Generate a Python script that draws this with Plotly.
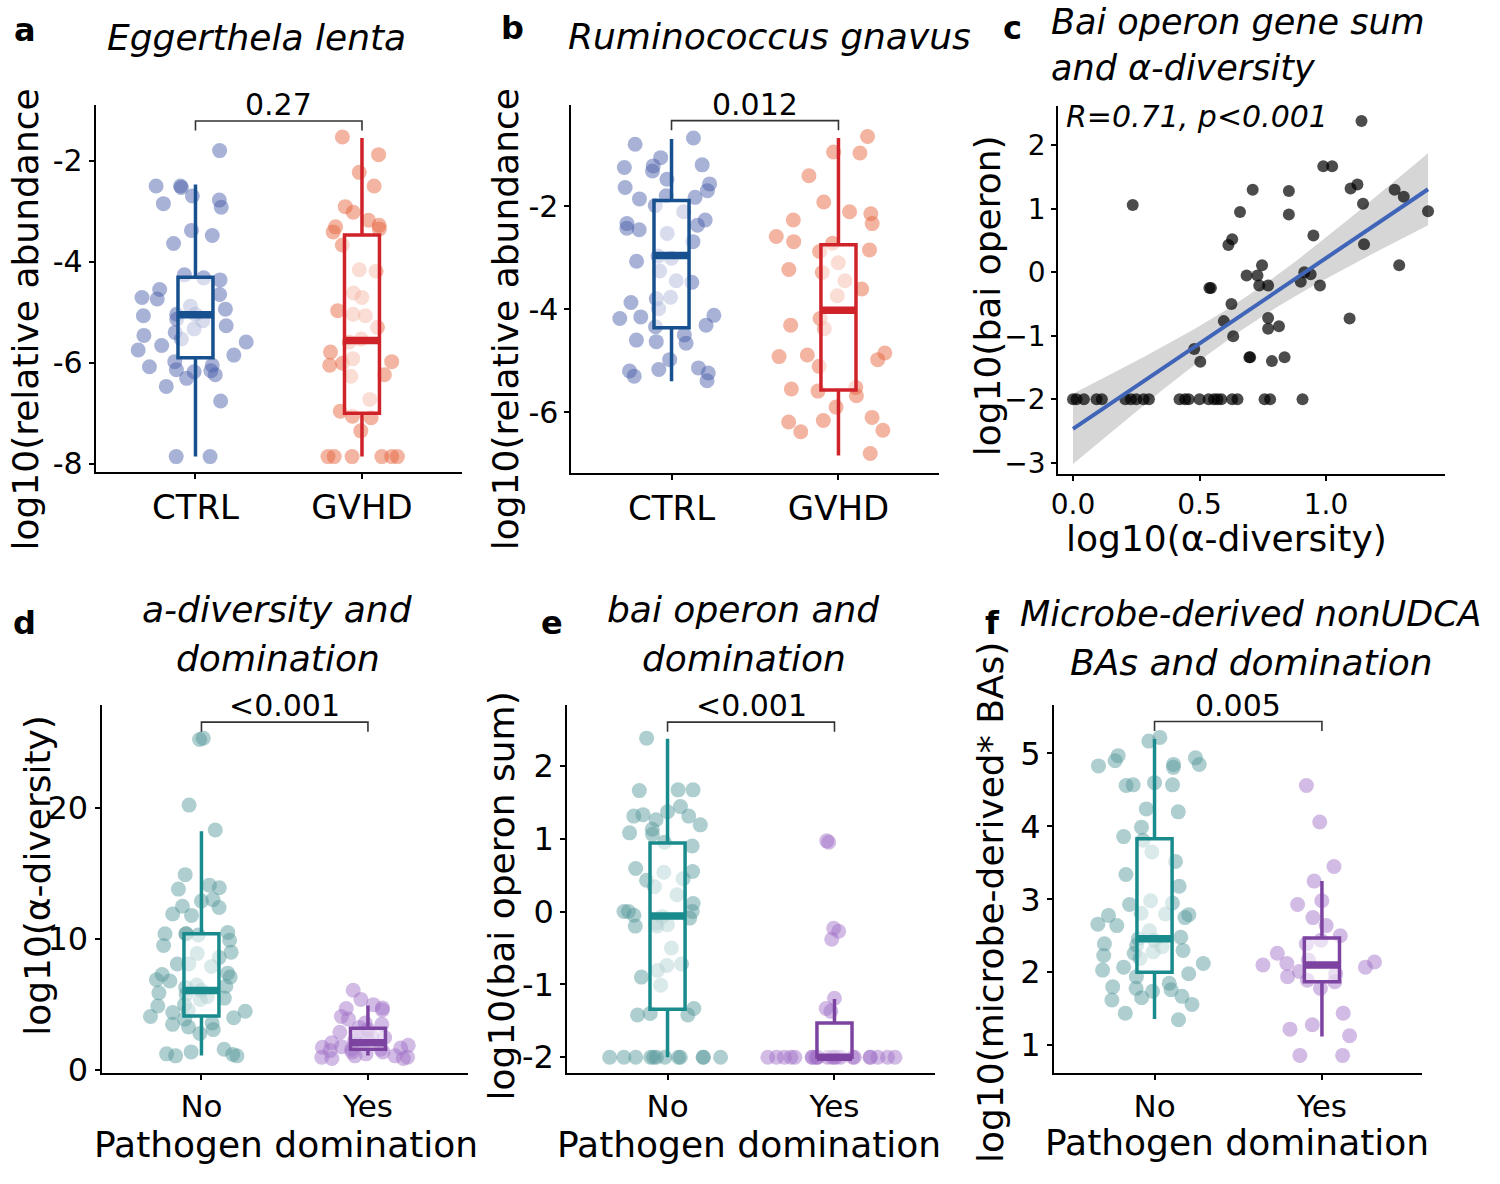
import numpy as np
import plotly.graph_objects as go

W, H = 1500, 1184
FONT = "DejaVu Sans"

# ---------------- data ----------------
ab_cats = ["CTRL", "GVHD"]
dom_cats = ["No", "Yes"]

a_ctrl = [-1.80, -2.50, -2.53, -2.50, -2.70, -2.78, -2.85, -2.92, -3.38, -3.48, -3.64, -4.26, -4.32, -4.36,
          -4.55, -4.65, -4.71, -4.74, -4.88, -4.94, -5.04, -5.04, -5.07, -5.14, -5.17, -5.27, -5.33, -5.40,
          -5.46, -5.53, -5.59, -5.66, -5.75, -5.85, -5.98, -6.05, -6.08, -6.14, -6.16, -6.18, -6.24, -6.31,
          -6.47, -6.76, -7.86, -7.86]
a_gvhd = [-1.53, -1.88, -2.23, -2.50, -2.91, -3.02, -3.18, -3.28, -3.31, -3.35, -3.41, -3.67, -4.16, -4.19,
          -4.62, -4.71, -4.97, -5.04, -5.07, -5.30, -5.53, -5.59, -5.79, -5.92, -5.98, -6.01, -6.05, -6.24,
          -6.27, -6.73, -6.96, -7.06, -7.09, -7.35, -7.86, -7.86, -7.86, -7.86, -7.86, -7.86]

b_ctrl = [-0.68, -0.80, -1.06, -1.20, -1.22, -1.25, -1.32, -1.48, -1.57, -1.64, -1.70, -1.80, -1.83, -1.86,
          -1.99, -2.11, -2.27, -2.34, -2.37, -2.43, -2.46, -2.53, -2.69, -2.97, -3.01, -3.07, -3.26, -3.45,
          -3.48, -3.77, -3.80, -3.87, -3.99, -4.12, -4.15, -4.18, -4.31, -4.34, -4.50, -4.60, -4.63, -4.66,
          -4.98, -5.14, -5.17, -5.20, -5.24, -5.30, -5.39]
b_gvhd = [-0.65, -0.95, -0.97, -1.41, -1.92, -2.11, -2.15, -2.27, -2.34, -2.59, -2.69, -2.72, -2.85, -2.88,
          -3.10, -3.23, -3.29, -3.45, -3.61, -3.74, -4.18, -4.31, -4.38, -4.85, -4.89, -4.92, -4.98, -5.11,
          -5.52, -5.55, -5.59, -5.68, -5.90, -6.10, -6.16, -6.19, -6.35, -6.38, -6.80]

c_x = [1.140, 0.989, 1.024, 0.710, 0.853, 1.097, 1.124, 1.271, 1.307, 0.236, 1.146, 0.660, 0.853, 1.403,
       0.950, 0.629, 0.614, 1.150, 0.747, 1.289, 0.686, 0.729, 0.736, 0.771, 0.914, 0.939, 0.900, 0.976,
       0.539, 0.545, 0.626, 0.596, 0.771, 0.771, 0.814, 0.633, 1.093, 0.479, 0.503, 0.697, 0.700, 0.786,
       0.836, 0.000, 0.014, 0.043, 0.093, 0.114, 0.207, 0.229, 0.250, 0.279, 0.300, 0.421, 0.443, 0.457,
       0.500, 0.536, 0.557, 0.571, 0.586, 0.629, 0.650, 0.757, 0.779, 0.907]
c_y = [2.38, 1.67, 1.67, 1.30, 1.28, 1.32, 1.38, 1.30, 1.19, 1.06, 1.08, 0.95, 0.91, 0.96,
       0.58, 0.52, 0.43, 0.44, 0.11, 0.11, -0.05, -0.05, -0.21, -0.21, 0.00, -0.03, -0.15, -0.21,
       -0.25, -0.25, -0.50, -0.77, -0.72, -0.89, -0.85, -1.01, -0.73, -1.21, -1.41, -1.34, -1.34, -1.40,
       -1.34, -2.0, -2.0, -2.0, -2.0, -2.0, -2.0, -2.0, -2.0, -2.0, -2.0, -2.0, -2.0, -2.0,
       -2.0, -2.0, -2.0, -2.0, -2.0, -2.0, -2.0, -2.0, -2.0, -2.0]

d_no = [25.3, 25.2, 20.2, 18.3, 14.9, 14.1, 13.9, 13.8, 13.0, 12.9, 12.5, 12.4, 11.9, 11.8, 10.5, 10.4,
        10.4, 10.4, 10.3, 9.9, 9.5, 9.0, 8.9, 8.6, 8.1, 8.1, 7.9, 7.4, 7.3, 7.1, 6.9, 6.8, 6.5, 6.4, 6.3,
        6.1, 5.9, 5.8, 5.6, 5.5, 5.4, 5.0, 4.9, 4.6, 4.5, 4.4, 4.1, 4.0, 3.9, 3.6, 3.5, 3.3, 3.1, 2.8,
        1.6, 1.4, 1.25, 1.2, 1.1, 1.1]
d_yes = [6.1, 5.4, 5.0, 4.75, 4.7, 4.6, 4.1, 3.9, 3.6, 3.5, 3.25, 3.1, 2.9, 2.75, 2.6, 2.5, 2.4, 2.25,
         2.1, 2.0, 1.9, 1.8, 1.75, 1.7, 1.6, 1.6, 1.5, 1.4, 1.4, 1.25, 1.1, 1.1, 1.0, 1.0, 0.9, 0.9]

e_no = [2.38, 1.67, 1.67, 1.66, 1.44, 1.37, 1.33, 1.31, 1.31, 1.26, 1.19, 1.13, 1.08, 1.06, 0.95, 0.90,
        0.59, 0.55, 0.54, 0.45, 0.43, 0.34, 0.23, 0.11, 0.00, 0.00, 0.00, -0.05, -0.07, -0.09, -0.16,
        -0.18, -0.20, -0.20, -0.50, -0.72, -0.74, -0.81, -0.90, -1.01, -1.33, -1.40, -1.42, -1.42,
        -2.0, -2.0, -2.0, -2.0, -2.0, -2.0, -2.0, -2.0, -2.0, -2.0, -2.0, -2.0]
e_yes = [0.97, 0.95, -0.23, -0.27, -0.38, -1.19, -1.33, -1.37,
         -2.0, -2.0, -2.0, -2.0, -2.0, -2.0, -2.0, -2.0, -2.0, -2.0, -2.0, -2.0, -2.0, -2.0,
         -2.0, -2.0, -2.0, -2.0, -2.0, -2.0, -2.0, -2.0]

f_no = [5.22, 5.17, 4.97, 4.94, 4.90, 4.85, 4.85, 4.83, 4.81, 4.60, 4.57, 4.57, 4.56, 4.24, 4.20, 3.99,
        3.86, 3.81, 3.65, 3.52, 3.34, 3.18, 2.98, 2.95, 2.93, 2.81, 2.80, 2.79, 2.78, 2.75, 2.66, 2.64,
        2.57, 2.48, 2.46, 2.44, 2.39, 2.37, 2.35, 2.30, 2.28, 2.26, 2.23, 2.19, 2.12, 2.07, 2.03, 1.98,
        1.94, 1.85, 1.80, 1.78, 1.76, 1.74, 1.67, 1.65, 1.62, 1.56, 1.44, 1.35]
f_yes = [4.56, 4.06, 3.45, 3.25, 2.98, 2.93, 2.75, 2.64, 2.50, 2.44, 2.39, 2.26, 2.17, 2.14, 2.12, 2.10,
         2.07, 2.01, 1.98, 1.94, 1.89, 1.87, 1.78, 1.44, 1.28, 1.22, 1.13, 0.86, 0.86]

# box statistics: [lower whisker, q1, median, q3, upper whisker]
a_ctrl_box = [-7.86, -5.90, -5.05, -4.31, -2.47]
a_gvhd_box = [-7.86, -7.00, -5.56, -3.47, -1.55]
b_ctrl_box = [-5.40, -4.36, -2.96, -1.89, -0.70]
b_gvhd_box = [-6.84, -5.57, -4.02, -2.75, -0.68]
d_no_box = [1.13, 4.13, 6.08, 10.40, 18.20]
d_yes_box = [1.13, 1.60, 2.10, 3.20, 4.93]
e_no_box = [-2.00, -1.34, -0.06, 0.94, 2.37]
e_yes_box = [-2.00, -2.00, -2.00, -1.53, -1.20]
f_no_box = [1.36, 2.00, 2.46, 3.83, 5.20]
f_yes_box = [1.12, 1.87, 2.10, 2.47, 3.25]

p_labels = {"a": "0.27", "b": "0.012", "d": "<0.001", "e": "<0.001", "f": "0.005"}
corr_label = "R=0.71, p<0.001"

ab_ticks = [-8, -6, -4, -2]
ab_ticktext = ["-8", "-6", "-4", "-2"]
b_ticks = [-6, -4, -2]
b_ticktext = ["-6", "-4", "-2"]
c_xticks = [0.0, 0.5, 1.0]
c_xticktext = ["0.0", "0.5", "1.0"]
c_yticks = [-3, -2, -1, 0, 1, 2]
c_yticktext = ["\u22123", "\u22122", "\u22121", "0", "1", "2"]
d_ticks = [0, 10, 20]
d_ticktext = ["0", "10", "20"]
e_ticks = [-2, -1, 0, 1, 2]
e_ticktext = ["-2", "-1", "0", "1", "2"]
f_ticks = [1, 2, 3, 4, 5]
f_ticktext = ["1", "2", "3", "4", "5"]

# ---------------- styling ----------------
BLUE, BLUE_PT = "#17508F", "#4A5FAA"
RED, RED_PT = "#CF2229", "#E6623A"
TEAL, TEAL_PT = "#1A8B8D", "#55999A"
PURP, PURP_PT = "#7D43A1", "#A070C6"

# panel plot areas in pixels: (left, right, top, bottom)
PANELS = {
    1: (89, 457, 106, 478),
    2: (567, 936, 106, 479),
    3: (1056, 1445, 107, 480),
    4: (95, 463, 715, 1088),
    5: (563, 932, 715, 1088),
    6: (1052, 1422, 715, 1088),
}


def px(x):
    return x / W


def py(y):
    return 1 - y / H


fig = go.Figure()
layout = dict(width=W, height=H, margin=dict(l=0, r=0, t=0, b=0), paper_bgcolor="white",
              plot_bgcolor="white", showlegend=False, boxmode="overlay", annotations=[])


def add_axes(idx, xr, yr, ytv, ytt, xfs, yfs, cats=None, xtv=None, xtt=None):
    l, r, t, b = PANELS[idx]
    common = dict(showline=True, linecolor="black", linewidth=2, ticks="outside", ticklen=5,
                  tickwidth=2, tickcolor="black", showgrid=False, zeroline=False, fixedrange=True)
    xa = dict(domain=[px(l), px(r)], range=xr, anchor=f"y{idx}",
              tickfont=dict(family=FONT, size=xfs, color="black"), **common)
    if cats is not None:
        xa.update(type="category", categoryorder="array", categoryarray=cats)
    else:
        xa.update(tickvals=xtv, ticktext=xtt)
    ya = dict(domain=[py(b), py(t)], range=yr, anchor=f"x{idx}", tickvals=ytv, ticktext=ytt,
              tickfont=dict(family=FONT, size=yfs, color="black"), **common)
    layout["xaxis" if idx == 1 else f"xaxis{idx}"] = xa
    layout["yaxis" if idx == 1 else f"yaxis{idx}"] = ya


def refs(idx):
    return ("x" if idx == 1 else f"x{idx}", "y" if idx == 1 else f"y{idx}")


def box_panel(idx, cats, groups, stats, box_cols, pt_cols, p_label):
    xr, yr = refs(idx)
    for cat, vals, st, bc, pc in zip(cats, groups, stats, box_cols, pt_cols):
        # jittered points (library jitter)
        fig.add_trace(go.Box(y=vals, x0=cat, xaxis=xr, yaxis=yr, boxpoints="all", jitter=1, pointpos=0,
                             width=0.82, line=dict(width=0, color="rgba(0,0,0,0)"),
                             fillcolor="rgba(0,0,0,0)", whiskerwidth=0, hoverinfo="skip",
                             marker=dict(size=15, color=pc, opacity=0.48, line=dict(width=0))))
        # box from read statistics
        fig.add_trace(go.Box(x=[cat], lowerfence=[st[0]], q1=[st[1]], median=[st[2]], q3=[st[3]],
                             upperfence=[st[4]], xaxis=xr, yaxis=yr, boxpoints=False, width=0.21,
                             whiskerwidth=0, fillcolor="rgba(255,255,255,0.55)",
                             line=dict(color=bc, width=3.5)))
        # thick median bar
        fig.add_trace(go.Box(x=[cat], lowerfence=[st[2]], q1=[st[2]], median=[st[2]], q3=[st[2]],
                             upperfence=[st[2]], xaxis=xr, yaxis=yr, boxpoints=False, width=0.21,
                             whiskerwidth=0, fillcolor="rgba(0,0,0,0)", line=dict(color=bc, width=7.5)))
    allv = np.concatenate([np.asarray(g, float) for g in groups])
    rng = allv.max() - allv.min()
    top = allv.max() + 0.05 * rng
    low = allv.max() + 0.02 * rng
    fig.add_trace(go.Scatter(x=[cats[0], cats[0], cats[1], cats[1]], y=[low, top, top, low],
                             mode="lines", line=dict(color="#333333", width=1.6), xaxis=xr, yaxis=yr,
                             hoverinfo="skip"))
    layout["annotations"].append(dict(x=0.5, y=top, xref=xr, yref=yr, text=p_label, showarrow=False,
                                      yanchor="bottom", yshift=-3,
                                      font=dict(family=FONT, size=30, color="black")))


# ---- panel a
add_axes(1, [-0.6, 1.6], [-8.156, -0.888], ab_ticks, ab_ticktext, 34, 30, cats=ab_cats)
box_panel(1, ab_cats, [a_ctrl, a_gvhd], [a_ctrl_box, a_gvhd_box], [BLUE, RED], [BLUE_PT, RED_PT],
          p_labels["a"])
# ---- panel b
add_axes(2, [-0.6, 1.6], [-7.17, -0.03], b_ticks, b_ticktext, 34, 30, cats=ab_cats)
box_panel(2, ab_cats, [b_ctrl, b_gvhd], [b_ctrl_box, b_gvhd_box], [BLUE, RED], [BLUE_PT, RED_PT],
          p_labels["b"])
# ---- panel d
add_axes(4, [-0.6, 1.6], [-0.23, 27.8], d_ticks, d_ticktext, 31, 32, cats=dom_cats)
box_panel(4, dom_cats, [d_no, d_yes], [d_no_box, d_yes_box], [TEAL, PURP], [TEAL_PT, PURP_PT],
          p_labels["d"])
# ---- panel e
add_axes(5, [-0.6, 1.6], [-2.22, 2.83], e_ticks, e_ticktext, 31, 32, cats=dom_cats)
box_panel(5, dom_cats, [e_no, e_yes], [e_no_box, e_yes_box], [TEAL, PURP], [TEAL_PT, PURP_PT],
          p_labels["e"])
# ---- panel f
add_axes(6, [-0.6, 1.6], [0.615, 5.66], f_ticks, f_ticktext, 31, 32, cats=dom_cats)
box_panel(6, dom_cats, [f_no, f_yes], [f_no_box, f_yes_box], [TEAL, PURP], [TEAL_PT, PURP_PT],
          p_labels["f"])

# ---- panel c : scatter + linear fit with 95% CI
add_axes(3, [-0.059, 1.471], [-3.17, 2.625], c_yticks, c_yticktext, 28, 28, xtv=c_xticks, xtt=c_xticktext)
xs = np.asarray(c_x, float)
ys = np.asarray(c_y, float)
slope, intercept = np.polyfit(xs, ys, 1)
n = len(xs)
resid = ys - (intercept + slope * xs)
s_err = np.sqrt(np.sum(resid ** 2) / (n - 2))
sxx = np.sum((xs - xs.mean()) ** 2)
xg = np.linspace(xs.min(), xs.max(), 100)
yg = intercept + slope * xg
se = s_err * np.sqrt(1.0 / n + (xg - xs.mean()) ** 2 / sxx)
tcrit = 1.998
fig.add_trace(go.Scatter(x=xg, y=yg - tcrit * se, mode="lines", line=dict(width=0), xaxis="x3",
                         yaxis="y3", hoverinfo="skip"))
fig.add_trace(go.Scatter(x=xg, y=yg + tcrit * se, mode="lines", line=dict(width=0), fill="tonexty",
                         fillcolor="rgba(153,153,153,0.4)", xaxis="x3", yaxis="y3", hoverinfo="skip"))
fig.add_trace(go.Scatter(x=xs, y=ys, mode="markers", xaxis="x3", yaxis="y3",
                         marker=dict(size=12, color="black", opacity=0.7, line=dict(width=0))))
fig.add_trace(go.Scatter(x=xg, y=yg, mode="lines", line=dict(color="#4065B8", width=4), xaxis="x3",
                         yaxis="y3"))


# ---------------- text ----------------
def ann(text, x, y, size, xanchor="center", yanchor="middle", angle=0, style="normal", weight="normal"):
    layout["annotations"].append(dict(text=text, x=px(x), y=py(y), xref="paper", yref="paper",
                                      showarrow=False, xanchor=xanchor, yanchor=yanchor, textangle=angle,
                                      font=dict(family=FONT, size=size, color="black", style=style,
                                                weight=weight)))


# panel letters
for letter, (lx, ly) in {"a": (18, 30), "b": (508, 28), "c": (1010, 28), "d": (18, 632),
                         "e": (548, 632), "f": (990, 632)}.items():
    ann(letter, lx, ly, 32, weight="bold")

# titles
ann("Eggerthela lenta", 251, 38, 36, style="italic")
ann("Ruminococcus gnavus", 766, 37, 36, style="italic")
ann("Bai operon gene sum", 1047, 22, 35, xanchor="left", style="italic")
ann("and \u03b1-diversity", 1047, 69, 35, xanchor="left", style="italic")
ann(corr_label, 1062, 118, 30, xanchor="left", style="italic")
ann("a-diversity and", 272, 618, 36, style="italic")
ann("domination", 272, 668, 36, style="italic")
ann("bai operon and", 740, 618, 36, style="italic")
ann("domination", 740, 668, 36, style="italic")
ann("Microbe-derived nonUDCA", 1250, 622, 35, style="italic")
ann("BAs and domination", 1250, 672, 36, style="italic")

# axis titles
ann("log10(relative abundance", 19, 324, 36, angle=-90)
ann("log10(relative abundance", 501, 324, 36, angle=-90)
ann("log10(bai operon)", 986, 300, 36, angle=-90)
ann("log10(\u03b1-diversity)", 1225, 546, 36)
ann("log10(\u03b1-diversity)", 30, 887, 36, angle=-90)
ann("log10(bai operon sum)", 497, 908, 36, angle=-90)
ann("log10(microbe-derived* BAs)", 988, 915, 36, angle=-90)
ann("Pathogen domination", 280, 1160, 36)
ann("Pathogen domination", 745, 1160, 36)
ann("Pathogen domination", 1236, 1158, 36)

fig.update_layout(**layout)
fig.write_html("out.html", config={"displayModeBar": False},
               post_script="document.body.style.margin='0px';document.body.style.overflow='hidden';")
